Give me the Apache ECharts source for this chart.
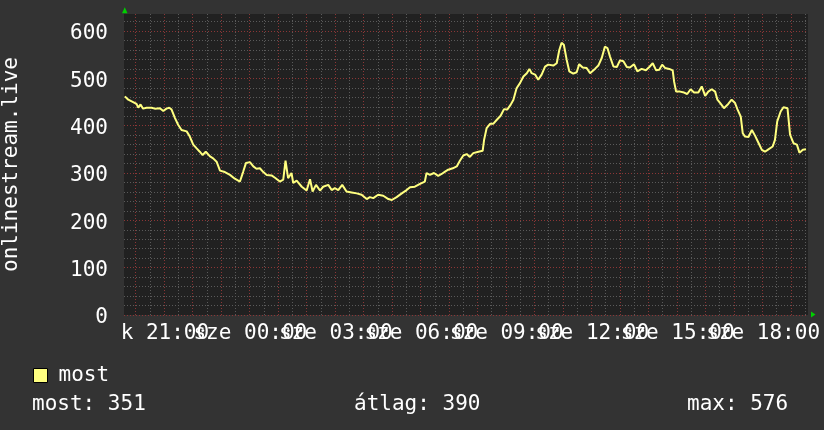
<!DOCTYPE html>
<html><head><meta charset="utf-8">
<script src="https://cdn.jsdelivr.net/npm/echarts@6/dist/echarts.min.js"></script>
<style>html,body{margin:0;padding:0;background:#333333;}#c{width:824px;height:430px;}</style>
</head><body><div id="c"></div>
<script>
// time in hours from Tuesday 00:00 (24 = Wednesday 00:00)
const hours = [19.63,19.75,19.92,20.04,20.10,20.18,20.27,20.39,20.57,20.68,20.86,20.98,21.09,21.19,21.27,21.39,21.50,21.62,21.68,21.80,21.91,22.03,22.15,22.26,22.36,22.47,22.62,22.73,22.85,22.97,23.14,23.32,23.49,23.67,23.78,23.88,24.02,24.14,24.25,24.37,24.49,24.61,24.78,24.90,25.07,25.19,25.27,25.36,25.48,25.54,
25.66,25.84,26.01,26.13,26.22,26.34,26.48,26.59,26.77,26.89,27.00,27.12,27.26,27.41,27.59,27.77,27.94,28.12,28.23,28.35,28.52,28.70,28.88,29.00,29.17,29.35,29.52,29.64,29.81,29.99,30.16,30.22,30.34,30.48,30.63,30.75,30.87,30.98,31.14,31.28,31.39,31.51,
31.63,31.74,31.86,32.04,32.19,32.24,32.33,32.45,32.56,32.68,32.82,32.94,33.05,33.17,33.27,33.38,33.50,33.62,33.74,33.83,33.91,34.03,34.14,34.26,34.38,34.49,34.67,34.79,34.88,34.96,35.04,35.14,35.23,35.37,35.49,35.58,35.70,35.84,35.96,36.13,36.25,36.37,36.48,36.57,36.66,36.78,36.90,37.01,37.13,37.25,37.36,
37.50,37.62,37.77,37.92,38.04,38.16,38.28,38.39,38.49,38.59,38.74,38.86,38.91,38.98,39.12,39.26,39.37,39.49,39.61,39.76,39.88,40.00,40.11,40.23,40.35,40.43,40.55,40.66,40.81,40.93,41.05,41.13,41.25,41.32,41.40,41.52,41.64,41.75,41.87,41.99,42.10,42.22,42.37,42.45,42.53,42.65,42.75,42.89,42.98,43.10,43.22,43.31,43.43,43.54];
const values = [462,455,450,446,438,445,436,438,438,436,437,431,436,438,434,416,402,391,395,388,377,360,352,345,338,345,335,331,324,305,302,296,288,282,302,321,323,314,309,310,302,296,295,290,282,286,326,289,300,279,
284,271,263,287,261,275,263,271,275,264,268,264,275,261,259,257,254,245,249,247,254,252,245,243,249,257,264,270,271,277,282,300,296,300,294,298,303,307,310,314,326,337,
340,334,342,345,347,370,395,404,404,412,421,435,434,444,455,479,490,504,511,520,511,508,497,508,525,529,527,532,560,575,571,539,515,510,513,530,523,522,511,520,527,543,567,564,546,525,524,538,536,524,523,
530,515,520,517,524,532,517,518,529,522,520,517,493,472,472,470,467,477,470,470,483,463,472,477,472,455,446,437,446,455,448,435,419,384,377,376,391,379,364,349,345,350,356,370,409,430,439,437,381,363,360,343,349,350];
const xLabelHours = [21,24,27,30,33,36,39,42];
const xLabels = ['k 21:00','sze 00:00','sze 03:00','sze 06:00','sze 09:00','sze 12:00','sze 15:00','sze 18:00'];
const yTicks = [0,100,200,300,400,500,600];
const seriesName = 'most';
const yTitle = 'onlinestream.live';
const statLabels = ['most: 351','átlag: 390','max: 576'];

const X_MIN = 19.6, X_MAX = 43.61, Y_MIN = 0, Y_MAX = 636;
const G = {left:124, top:14, right:808, bottom:315};
const FONT = '"DejaVu Sans Mono", monospace';
const FS = 21;
const FONT_CSS = FS + 'px ' + FONT;
const MAJOR = '#8c3636', MINOR = '#5a5a5a';
// vertical grid: full hours (major) and half hours (minor)
const vGrid = [];
for (let h = 20; h <= 43.5; h += 0.5) vGrid.push([h, Number.isInteger(h) ? 1 : 0]);

const chart = echarts.init(document.getElementById('c'), null, {renderer: 'canvas'});
const data = hours.map((h, i) => [h, values[i]]);

function textEl(x, y, text, align) {
  return {type: 'text', x: x, y: y, silent: true,
    style: {text: text, fill: '#ffffff', font: FONT_CSS, align: align, verticalAlign: 'middle',
            textAlign: align, textVerticalAlign: 'middle'}};
}

chart.setOption({
  backgroundColor: '#333333',
  animation: false,
  grid: {left: G.left, top: G.top, right: 824 - G.right, bottom: 430 - G.bottom,
         show: true, backgroundColor: '#212121', borderWidth: 0, outerBoundsMode: 'none'},
  xAxis: [
    {type: 'value', min: X_MIN, max: X_MAX, axisLine: {show: false},
     axisTick: {show: false}, splitLine: {show: false}, axisLabel: {show: false}}
  ],
  yAxis: [
    {type: 'value', position: 'left', min: Y_MIN, max: Y_MAX, interval: 20,
     axisLine: {show: false}, axisTick: {show: false}, axisLabel: {show: false},
     splitLine: {show: true, showMinLine: false, showMaxLine: false, lineStyle: {color: MINOR, width: 1, type: [1, 2]}}},
    {type: 'value', position: 'left', min: Y_MIN, max: Y_MAX, interval: 100,
     axisLine: {show: false}, axisTick: {show: false}, axisLabel: {show: false},
     splitLine: {show: true, showMaxLine: false, lineStyle: {color: MAJOR, width: 1, type: [1, 2]}}}
  ],
  legend: {data: [seriesName], left: 33, top: 365, padding: 0, icon: 'rect', itemWidth: 14, itemHeight: 14,
    itemStyle: {color: '#ffff80', borderColor: '#000000', borderWidth: 1},
    textStyle: {color: '#ffffff', fontFamily: FONT, fontSize: FS, padding: [0, 0, 0, 6]}},
  series: [
    {type: 'custom', xAxisIndex: 0, yAxisIndex: 1, data: vGrid, z: 2, silent: true,
     encode: {x: 0}, clip: true,
     renderItem: function (params, api) {
       const h = api.value(0);
       const major = api.value(1) === 1;
       const top = api.coord([h, Y_MAX]);
       const bot = api.coord([h, Y_MIN]);
       const x = Math.round(top[0]) + 0.5;
       return {type: 'line', shape: {x1: x, y1: top[1], x2: x, y2: bot[1]},
         style: {stroke: major ? MAJOR : MINOR, lineWidth: 1, lineDash: [1, 2]}, z2: major ? 2 : 1};
     }},
    {type: 'custom', xAxisIndex: 0, yAxisIndex: 1, silent: true, clip: false, z: 3,
     data: xLabelHours.map((h, i) => [h, Y_MIN, i]), encode: {x: 0, y: 1},
     renderItem: function (params, api) {
       const p = api.coord([api.value(0), Y_MIN]);
       return textEl(p[0] + 1, p[1] + 18.5, xLabels[api.value(2)], 'center');
     }},
    {type: 'custom', xAxisIndex: 0, yAxisIndex: 1, silent: true, clip: false, z: 3,
     data: yTicks.map(v => [X_MIN, v]), encode: {x: 0, y: 1},
     renderItem: function (params, api) {
       const p = api.coord([X_MIN, api.value(1)]);
       return textEl(p[0] - 16, p[1] + 3, String(api.value(1)), 'right');
     }},
    {name: seriesName, type: 'line', data: data, xAxisIndex: 0, yAxisIndex: 1,
    showSymbol: false, symbol: 'none', z: 10, color: '#ffff80',
    lineStyle: {color: '#ffff80', width: 2}, itemStyle: {color: '#ffff80'}}],
  graphic: [
    {type: 'text', x: 12, y: (G.top + G.bottom) / 2, rotation: Math.PI / 2,
     style: {text: yTitle, fill: '#ffffff', font: FONT_CSS, align: 'center', verticalAlign: 'middle'}},
    {type: 'text', x: 32, y: 405, style: {text: statLabels[0], fill: '#ffffff', font: FONT_CSS, verticalAlign: 'middle'}},
    {type: 'text', x: 354, y: 405, style: {text: statLabels[1], fill: '#ffffff', font: FONT_CSS, verticalAlign: 'middle'}},
    {type: 'text', x: 687, y: 405, style: {text: statLabels[2], fill: '#ffffff', font: FONT_CSS, verticalAlign: 'middle'}},
    {type: 'polygon', shape: {points: [[G.left + 0.8, G.top - 6.7], [G.left - 2, G.top - 0.7], [G.left + 3.5, G.top - 0.7]]}, style: {fill: '#00d000'}},
    {type: 'polygon', shape: {points: [[G.right + 7.5, G.bottom - 0.5], [G.right + 3, G.bottom - 3.5], [G.right + 3, G.bottom + 2.5]]}, style: {fill: '#00d000'}}
  ]
});
</script></body></html>
